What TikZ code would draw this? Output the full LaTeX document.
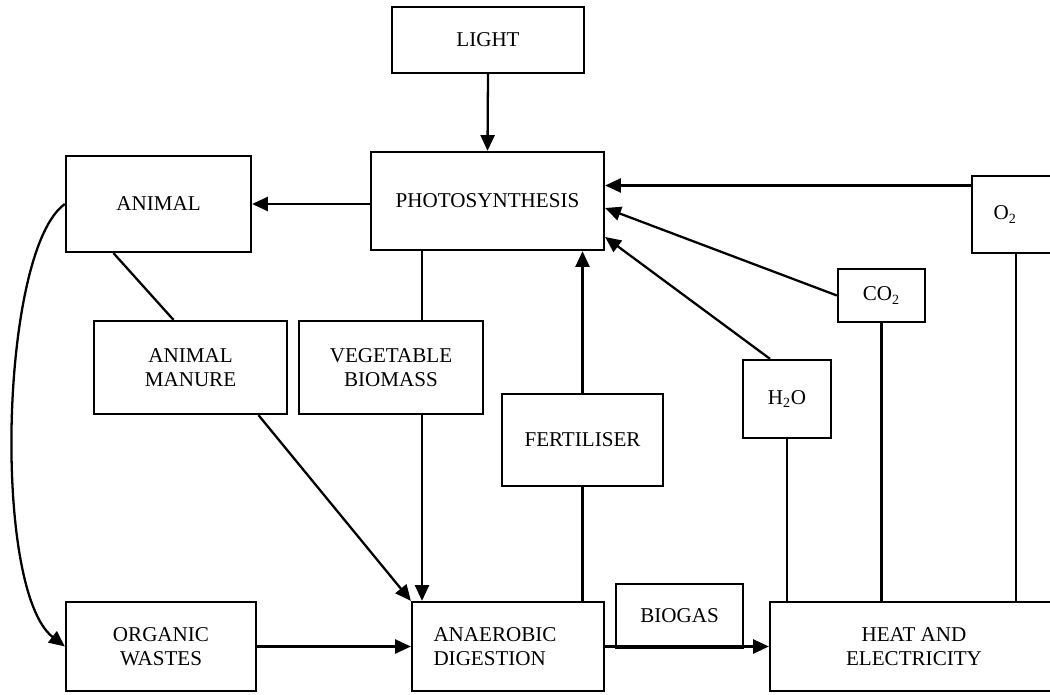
\documentclass[tikz,border=0pt]{standalone}
\usepackage{fontspec}
\setmainfont{Liberation Serif}
\usetikzlibrary{arrows.meta,calc}

\begin{document}
\begin{tikzpicture}[x=0.02cm,y=-0.02cm,
        box/.style={draw,line width=1.3pt,align=center,font=\fontsize{12}{13.5}\selectfont},
        lefttext/.style={align=left,inner xsep=0.43cm},
        arr/.style={-{Triangle[length=9pt,width=8pt]}},
        line width=1.3pt]
        \clip (0,0) rectangle (1050,695);

        \node[box,minimum width=3.84cm,minimum height=1.32cm] (light) at (488,40) {LIGHT};
        \node[box,minimum width=4.66cm,minimum height=1.96cm] (photo) at (487.5,201) {PHOTOSYNTHESIS};
        \node[box,minimum width=3.7cm,minimum height=1.92cm] (animal) at (158.5,204) {ANIMAL};
        \node[box,minimum width=3.86cm,minimum height=1.86cm] (manure) at (190.5,367.5) {ANIMAL\\MANURE};
        \node[box,minimum width=3.68cm,minimum height=1.86cm] (veg) at (391,367.5) {VEGETABLE\\BIOMASS};
        \node[box,minimum width=3.22cm,minimum height=1.84cm] (fert) at (582.5,440) {FERTILISER};
        \node[box,minimum width=1.76cm,minimum height=1.56cm] (h2o) at (787,399) {H\textsubscript{2}O};
        \node[box,minimum width=1.74cm,minimum height=1.06cm] (co2) at (881.5,295.5) {CO\textsubscript{2}};
        \node[box,lefttext,text width=0.9cm,minimum height=1.54cm] (o2) at (1016,214.5) {O\textsubscript{2}};
        \node[box,minimum width=3.8cm,minimum height=1.78cm] (organic) at (161,646.5) {ORGANIC\\WASTES};
        \node[box,lefttext,text width=2.98cm,minimum height=1.78cm] (anaer) at (508,646.5) {ANAEROBIC\\DIGESTION};
        \node[box,minimum width=2.54cm,minimum height=1.28cm] (biogas) at (679.5,616) {BIOGAS};
        \node[box,minimum width=5.76cm,minimum height=1.78cm] (heat) at (914,646.5) {HEAT AND\\ELECTRICITY};

        % light and photosynthesis
        \draw[arr] (light.south) -- (photo.north);
        \draw[arr] (photo.west |- animal) -- (animal.east);
        \draw[arr] ($(o2.west)+(0,-29)$) coordinate (o) -- (o -| photo.east);
        \draw[arr] (co2.west) -- ($(photo.east)+(0,7)$);
        \draw[arr] ($(h2o.north)+(-17,0)$) -- ($(photo.east)+(0,36)$);

        % biomass
        \draw ($(animal.south)+(-45,0)$) -- ($(manure.north)+(-17,0)$);
        \draw[arr] ($(manure.south)+(68,0)$) -- (anaer.north west);
        \draw ($(veg.north)+(31,0)$) coordinate (v1) -- (v1 |- photo.south);
        \draw[arr] ($(veg.south)+(31,0)$) coordinate (v2) -- (v2 |- anaer.north);
        \draw[arr] (animal.west) .. controls (0,250) and (-8,590) .. (organic.west);
        \draw[arr] (organic.east) -- (anaer.west);

        % digestion products
        \draw (fert.south) -- (fert.south |- anaer.north);
        \draw[arr] (fert.north) -- (fert.north |- photo.south);
        \draw[arr] (anaer.east) -- (anaer.east -| heat.west);
        \draw (h2o.south) -- (h2o.south |- heat.north);
        \draw (co2.south) -- (co2.south |- heat.north);
        \draw (o2.south) -- (o2.south |- heat.north);
    \end{tikzpicture}
\end{document}
